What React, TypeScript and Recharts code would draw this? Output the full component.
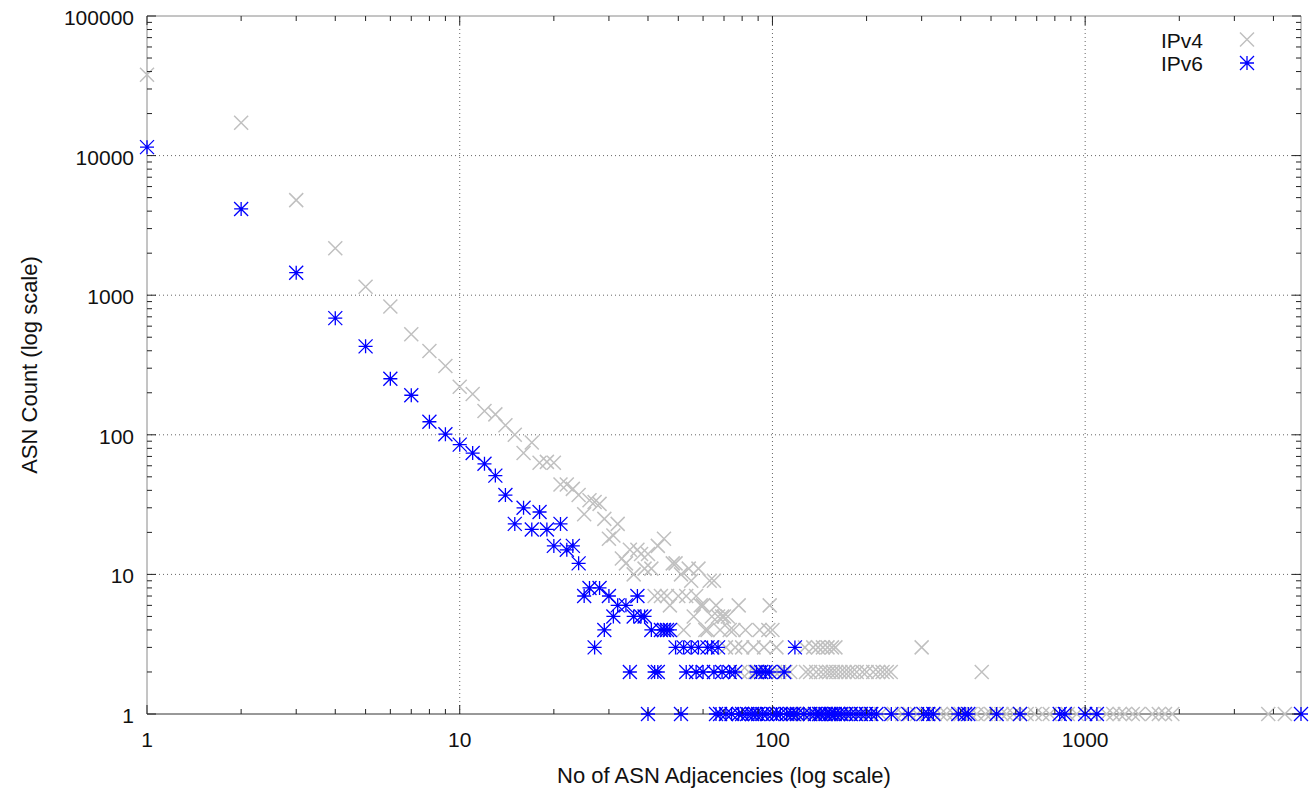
import { Legend, ReferenceLine, Scatter, ScatterChart, XAxis, YAxis } from "recharts";

// IPv4: number of adjacencies -> number of ASNs with that many adjacencies
const ipv4Adjacencies = [
  1, 2, 3, 4, 5, 6, 7, 8, 9, 10, 11, 12, 13, 14, 15, 16, 17, 18, 19, 20,
  21, 22, 23, 24, 25, 26, 27, 28, 29, 30, 31, 32, 33, 34, 35, 36, 37, 38, 39, 40,
  41, 42, 43, 44, 45, 46, 47, 48, 49, 50, 51, 52, 53, 54, 55, 56, 57, 58, 59, 60,
  61, 62, 63, 64, 65, 66, 67, 68, 69, 70, 71, 72, 73, 75, 76, 78, 79, 80, 82, 84,
  87, 88, 90, 91, 94, 97, 98, 100, 102, 103, 105, 110, 114, 127, 128, 132, 135, 138, 140, 143,
  145, 148, 150, 152, 155, 156, 159, 160, 165, 170, 175, 180, 186, 194, 200, 210, 218, 225, 232, 239,
  300, 467,
  116, 120, 124, 130, 142, 146, 158, 163, 168, 178, 190, 205, 222, 245, 260, 275, 290, 310, 330, 345,
  360, 380, 400, 430, 450, 480, 500, 520, 540, 560, 590, 620, 650, 690, 730, 770, 880, 940, 1050, 1170,
  1230, 1290, 1340, 1420, 1480, 1640, 1720, 1800, 1900, 3850, 4350,
];
const ipv4Counts = [
  38000, 17200, 4800, 2170, 1150, 830, 525, 398, 311, 221, 196, 148, 140, 117, 100, 74, 88, 63, 64, 63,
  44, 44, 41, 37, 27, 34, 33, 32, 25, 18, 19, 23, 13, 12, 15, 10, 15, 14, 11, 14,
  11, 7, 16, 7, 18, 7, 6, 12, 12, 7, 10, 4, 7, 11, 9, 5, 7, 11, 6, 6,
  4, 4, 9, 5, 9, 6, 5, 4, 5, 5, 3, 5, 4, 4, 3, 6, 2, 3, 4, 2,
  3, 2, 2, 4, 3, 4, 6, 4, 2, 3, 2, 2, 2, 3, 2, 2, 3, 2, 3, 2,
  3, 2, 3, 2, 3, 2, 3, 2, 2, 2, 2, 2, 2, 2, 2, 2, 2, 2, 2, 2,
  3, 2,
  1, 1, 1, 1, 1, 1, 1, 1, 1, 1, 1, 1, 1, 1, 1, 1, 1, 1, 1, 1,
  1, 1, 1, 1, 1, 1, 1, 1, 1, 1, 1, 1, 1, 1, 1, 1, 1, 1, 1, 1,
  1, 1, 1, 1, 1, 1, 1, 1, 1, 1, 1,
];

// IPv6
const ipv6Adjacencies = [
  1, 2, 3, 4, 5, 6, 7, 8, 9, 10, 11, 12, 13, 14, 15, 16, 17, 18, 19, 20,
  21, 22, 23, 24, 25, 26, 27, 28, 29, 30, 31, 32, 34, 35, 36, 37, 38, 39, 40, 41,
  42, 43, 44, 45, 46, 47, 49, 51, 52, 53, 55, 57, 58, 60, 62, 64, 65, 66, 67, 68,
  69, 71, 73, 74, 76, 78, 80, 83, 86, 88, 89, 90, 92, 93, 95, 96, 98, 100, 103, 106,
  109, 111, 114, 117, 118, 120, 126, 132, 137, 141, 143, 148, 152, 154, 158, 162, 166, 172, 178, 185,
  192, 199, 207, 215, 240, 272, 304, 315, 327, 393, 413, 423, 521, 619, 829, 861, 1000, 1090, 4900,
];
const ipv6Counts = [
  11500, 4150, 1450, 685, 430, 252, 192, 124, 101, 85, 74, 62, 51, 37, 23, 30, 21, 28, 21, 16,
  23, 15, 16, 12, 7, 8, 3, 8, 4, 7, 5, 6, 6, 2, 5, 7, 5, 5, 1, 4,
  2, 2, 4, 4, 4, 4, 3, 1, 3, 2, 3, 2, 3, 2, 3, 3, 2, 1, 3, 1,
  2, 1, 2, 1, 2, 1, 1, 1, 1, 1, 2, 1, 2, 1, 2, 1, 2, 1, 1, 1,
  2, 1, 1, 1, 3, 1, 1, 1, 1, 1, 1, 1, 1, 1, 1, 1, 1, 1, 1, 1,
  1, 1, 1, 1, 1, 1, 1, 1, 1, 1, 1, 1, 1, 1, 1, 1, 1, 1, 1,
];

const xMajorTicks = [1, 10, 100, 1000];
const xMinorTicks = [
  2, 3, 4, 5, 6, 7, 8, 9,
  20, 30, 40, 50, 60, 70, 80, 90,
  200, 300, 400, 500, 600, 700, 800, 900,
  2000, 3000, 4000,
];
const yMajorTicks = [1, 10, 100, 1000, 10000, 100000];
const yMinorTicks = [
  2, 3, 4, 5, 6, 7, 8, 9,
  20, 30, 40, 50, 60, 70, 80, 90,
  200, 300, 400, 500, 600, 700, 800, 900,
  2000, 3000, 4000, 5000, 6000, 7000, 8000, 9000,
  20000, 30000, 40000, 50000, 60000, 70000, 80000, 90000,
];

const ipv4Data = ipv4Adjacencies.map((x, i) => ({ x, y: ipv4Counts[i] }));
const ipv6Data = ipv6Adjacencies.map((x, i) => ({ x, y: ipv6Counts[i] }));

const W = 1314;
const H = 788;
const PLOT_LEFT = 147;
const PLOT_RIGHT = 1301;
const PLOT_TOP = 16;
const PLOT_BOTTOM = 714;
const FONT = "'Liberation Sans', Arial, Helvetica, sans-serif";
const FONT_SIZE = 21;
const TITLE_SIZE = 22;
const IPV4_COLOR = "#c0c0c0";
const IPV6_COLOR = "#0000ff";
const FRAME = "#8a8a8a";

const crossPath = (cx: number, cy: number, r = 7) =>
  `M${cx - r},${cy - r}L${cx + r},${cy + r}M${cx - r},${cy + r}L${cx + r},${cy - r}`;
const starPath = (cx: number, cy: number, r = 7) =>
  crossPath(cx, cy, r) + `M${cx - r},${cy}L${cx + r},${cy}M${cx},${cy - r}L${cx},${cy + r}`;

const CrossShape = (props: any) => (
  <path d={crossPath(props.cx, props.cy)} stroke={IPV4_COLOR} strokeWidth={1.5} fill="none" />
);
const StarShape = (props: any) => (
  <path d={starPath(props.cx, props.cy)} stroke={IPV6_COLOR} strokeWidth={1.3} fill="none" />
);

const XTick = (props: any) => {
  const { x, payload } = props;
  const major = xMajorTicks.includes(payload.value);
  const len = major ? 9 : 5;
  return (
    <g>
      <line x1={x} x2={x} y1={PLOT_BOTTOM} y2={PLOT_BOTTOM - len} stroke="#222" />
      <line x1={x} x2={x} y1={PLOT_TOP} y2={PLOT_TOP + len} stroke="#222" />
      {major && (
        <text x={x} y={747} textAnchor="middle" fontFamily={FONT} fontSize={FONT_SIZE} fill="#111">
          {payload.value}
        </text>
      )}
    </g>
  );
};

const YTick = (props: any) => {
  const { y, payload } = props;
  const major = yMajorTicks.includes(payload.value);
  const len = major ? 9 : 5;
  return (
    <g>
      <line x1={PLOT_LEFT} x2={PLOT_LEFT + len} y1={y} y2={y} stroke="#222" />
      <line x1={PLOT_RIGHT} x2={PLOT_RIGHT - len} y1={y} y2={y} stroke="#222" />
      {major && (
        <text x={134} y={y + 9} textAnchor="end" fontFamily={FONT} fontSize={FONT_SIZE} fill="#111">
          {payload.value}
        </text>
      )}
    </g>
  );
};

const renderLegend = (props: any) => {
  const payload = props.payload || [];
  return (
    <svg width={W} height={90} style={{ display: "block" }}>
      {payload.map((entry: any, i: number) => {
        const cy = 39.5 + i * 23.5;
        const isV6 = entry.value === "IPv6";
        return (
          <g key={entry.value}>
            <text x={1203} y={cy + 8} textAnchor="end" fontFamily={FONT} fontSize={FONT_SIZE} fill="#111">
              {entry.value}
            </text>
            <path
              d={isV6 ? starPath(1247, cy) : crossPath(1247, cy)}
              stroke={isV6 ? IPV6_COLOR : IPV4_COLOR}
              strokeWidth={isV6 ? 1.3 : 1.5}
              fill="none"
            />
          </g>
        );
      })}
    </svg>
  );
};

const gridProps = { stroke: "#666", strokeDasharray: "1 3", strokeWidth: 1 };

export default function App() {
  return (
    <div style={{ width: W, height: H, background: "#fff", position: "relative" }}>
      <style>{"body{margin:0;background:#fff}"}</style>
      <ScatterChart width={W} height={H} margin={{ top: PLOT_TOP, right: W - PLOT_RIGHT, bottom: 0, left: 0 }}>
        <XAxis
          dataKey="x"
          type="number"
          scale="log"
          domain={[1, 4900]}
          ticks={[...xMajorTicks, ...xMinorTicks]}
          interval={0}
          tickLine={false}
          axisLine={{ stroke: "#333" }}
          height={H - PLOT_BOTTOM}
          tick={(p: any) => <XTick {...p} />}
          label={{
            content: () => (
              <text x={(PLOT_LEFT + PLOT_RIGHT) / 2} y={783} textAnchor="middle" fontFamily={FONT} fontSize={TITLE_SIZE} fill="#111">
                No of ASN Adjacencies (log scale)
              </text>
            ),
          }}
        />
        <YAxis
          dataKey="y"
          type="number"
          scale="log"
          domain={[1, 100000]}
          ticks={[...yMajorTicks, ...yMinorTicks]}
          interval={0}
          tickLine={false}
          axisLine={{ stroke: FRAME }}
          width={PLOT_LEFT}
          tick={(p: any) => <YTick {...p} />}
          label={{
            content: () => (
              <text
                x={37}
                y={(PLOT_TOP + PLOT_BOTTOM) / 2}
                transform={`rotate(-90, 37, ${(PLOT_TOP + PLOT_BOTTOM) / 2})`}
                textAnchor="middle"
                fontFamily={FONT}
                fontSize={TITLE_SIZE}
                fill="#111"
              >
                ASN Count (log scale)
              </text>
            ),
          }}
        />
        {[10, 100, 1000].map((v) => (
          <ReferenceLine key={`gx${v}`} x={v} {...gridProps} />
        ))}
        {[10, 100, 1000, 10000].map((v) => (
          <ReferenceLine key={`gy${v}`} y={v} {...gridProps} />
        ))}
        <ReferenceLine y={100000} stroke={FRAME} />
        <ReferenceLine x={4900} stroke={FRAME} />
        <Legend
          layout="horizontal"
          verticalAlign="middle"
          align="center"
          content={renderLegend}
          wrapperStyle={{ position: "absolute", left: 0, top: 0, width: W, height: 90, margin: 0, pointerEvents: "none" }}
        />
        <Scatter name="IPv4" data={ipv4Data} shape={CrossShape} fill={IPV4_COLOR} isAnimationActive={false} />
        <Scatter name="IPv6" data={ipv6Data} shape={StarShape} fill={IPV6_COLOR} isAnimationActive={false} />
      </ScatterChart>
    </div>
  );
}
